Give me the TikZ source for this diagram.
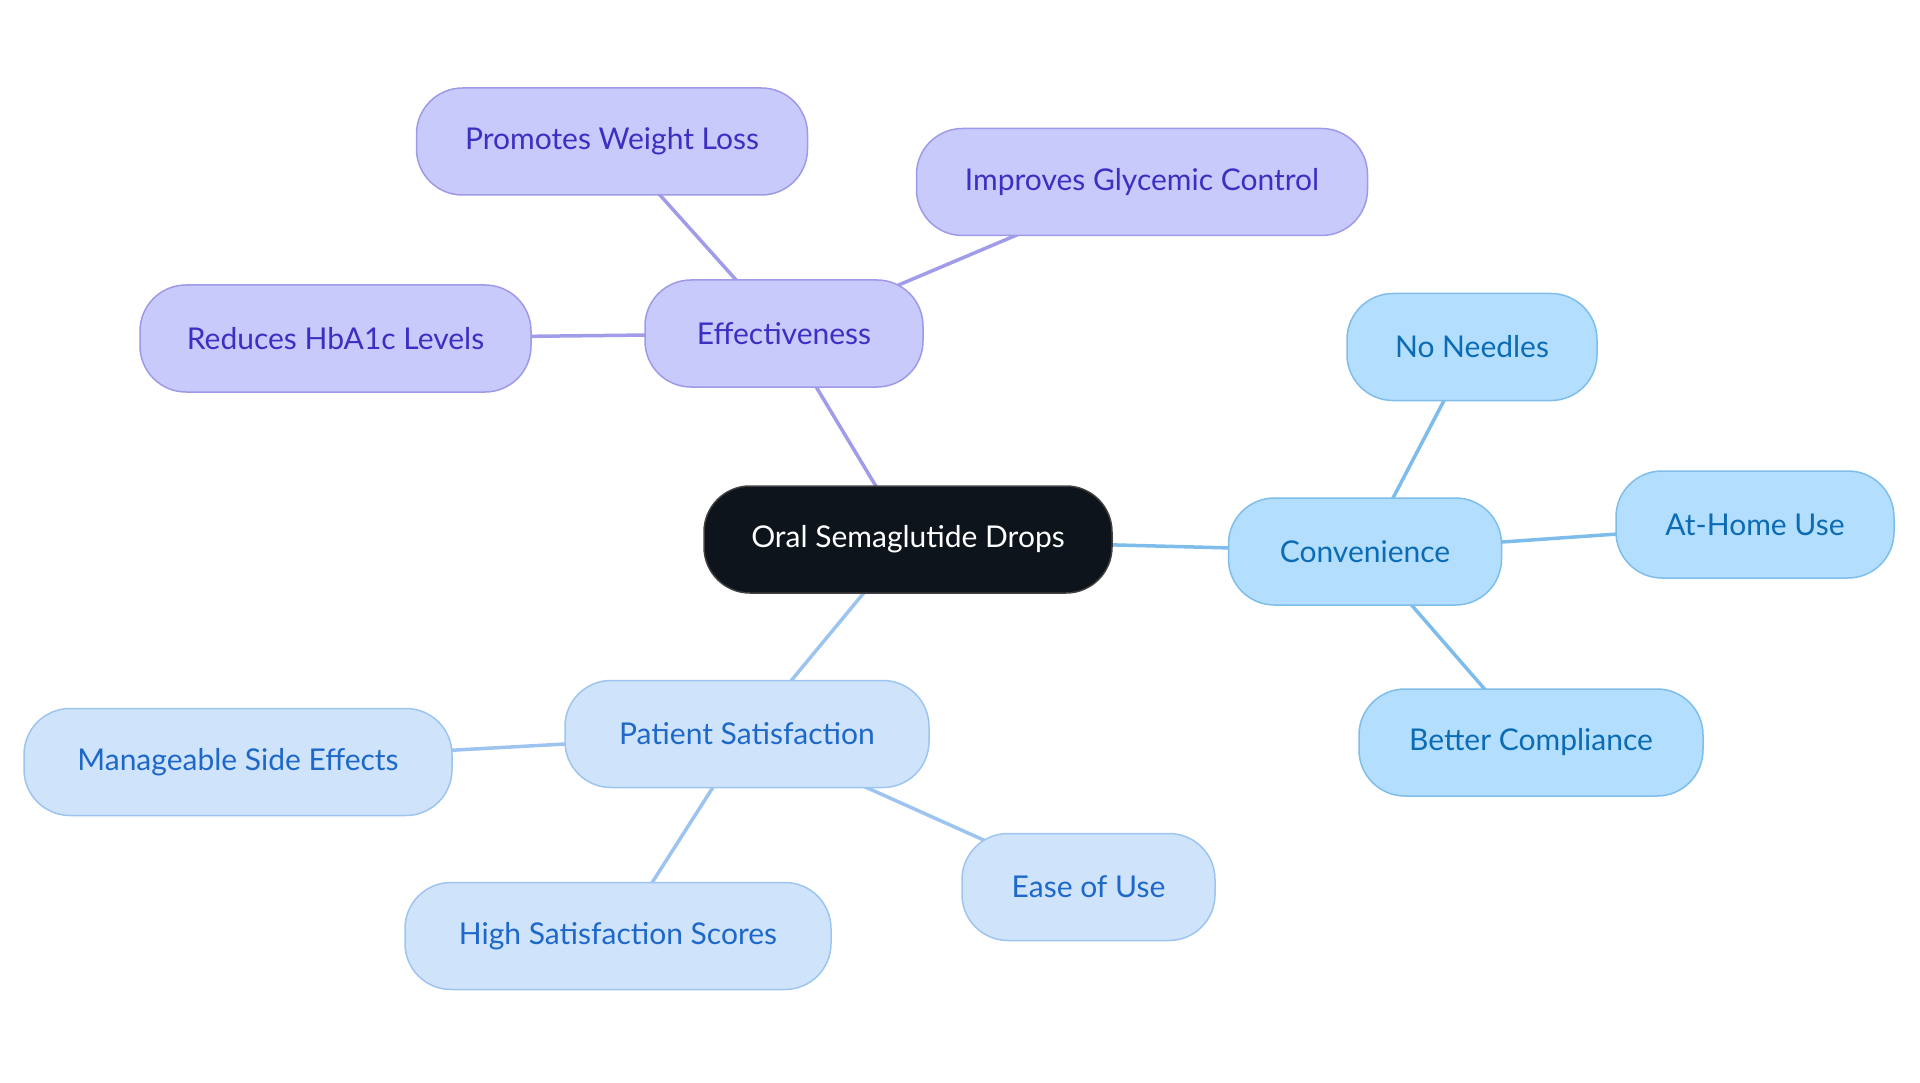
\documentclass[tikz,border=0pt]{standalone}
\usepackage{fontspec}
\setmainfont{Lato}
\pgfdeclarelayer{bg}
\pgfsetlayers{bg,main}
\definecolor{pfill}{HTML}{C8CAFB}
\definecolor{pdraw}{HTML}{9E9AE8}
\definecolor{ptext}{HTML}{3B30C2}
\definecolor{pline}{HTML}{A09CEA}
\definecolor{cfill}{HTML}{B3DEFD}
\definecolor{cdraw}{HTML}{7FBDEB}
\definecolor{ctext}{HTML}{0B6CB5}
\definecolor{cline}{HTML}{7EBDEB}
\definecolor{sfill}{HTML}{CFE3FB}
\definecolor{sdraw}{HTML}{9EC4F0}
\definecolor{stext}{HTML}{1D68C8}
\definecolor{sline}{HTML}{9DC4F0}
\definecolor{rootfill}{HTML}{0D141B}
\tikzset{
  box/.style={rounded corners=46pt, minimum height=107pt, line width=1.5pt, inner sep=0pt, font=\fontsize{30}{34}\selectfont},
  pbox/.style={box, fill=pfill, draw=pdraw, text=ptext},
  cbox/.style={box, fill=cfill, draw=cdraw, text=ctext},
  sbox/.style={box, fill=sfill, draw=sdraw, text=stext},
  rootbox/.style={box, fill=rootfill, draw=black!75, text=white},
  pedge/.style={draw=pline, line width=3.5pt},
  cedge/.style={draw=cline, line width=3.5pt},
  sedge/.style={draw=sline, line width=3.5pt},
}
\begin{document}
\begin{tikzpicture}[x=1pt,y=-1pt]
\useasboundingbox (0,0) rectangle (1920,1083);
\node[rootbox, minimum width=408pt] (root) at (908,539.5) {Oral Semaglutide Drops};
\node[pbox, minimum width=278pt] (eff) at (784,333.5) {Effectiveness};
\node[pbox, minimum width=391pt] (pwl) at (612,141.5) {Promotes Weight Loss};
\node[pbox, minimum width=451pt] (igc) at (1142,182) {Improves Glycemic Control};
\node[pbox, minimum width=391pt] (rhb) at (335.5,338.5) {Reduces HbA1c Levels};
\node[cbox, minimum width=273pt] (conv) at (1365,551.5) {Convenience};
\node[cbox, minimum width=250pt] (nn) at (1472,347) {No Needles};
\node[cbox, minimum width=278pt] (ahu) at (1755,524.5) {At-Home Use};
\node[cbox, minimum width=344pt] (bc) at (1531,742.5) {Better Compliance};
\node[sbox, minimum width=364pt] (ps) at (747,734) {Patient Satisfaction};
\node[sbox, minimum width=428pt] (mse) at (238,762) {Manageable Side Effects};
\node[sbox, minimum width=426pt] (hss) at (618,936) {High Satisfaction Scores};
\node[sbox, minimum width=253pt] (eou) at (1088.5,887) {Ease of Use};
\begin{pgfonlayer}{bg}
\draw[pedge] (root.center) -- (eff.center);
\draw[pedge] (eff.center) -- (pwl.center);
\draw[pedge] (eff.center) -- (igc.center);
\draw[pedge] (eff.center) -- (rhb.center);
\draw[cedge] (root.center) -- (conv.center);
\draw[cedge] (conv.center) -- (nn.center);
\draw[cedge] (conv.center) -- (ahu.center);
\draw[cedge] (conv.center) -- (bc.center);
\draw[sedge] (root.center) -- (ps.center);
\draw[sedge] (ps.center) -- (mse.center);
\draw[sedge] (ps.center) -- (hss.center);
\draw[sedge] (ps.center) -- (eou.center);
\end{pgfonlayer}
\end{tikzpicture}
\end{document}
